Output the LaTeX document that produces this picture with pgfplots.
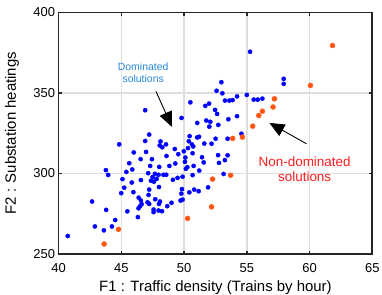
\documentclass[border=0pt]{standalone}
\usepackage{pgfplots}
\pgfplotsset{compat=1.18}
\usepackage{pgfplotstable}
\usepackage{fontspec}
\setmainfont{Liberation Sans}
\usetikzlibrary{arrows.meta}
\definecolor{dotblue}{RGB}{0,0,255}
\definecolor{dotorange}{RGB}{255,85,20}
\definecolor{txtblue}{RGB}{40,135,215}
\definecolor{txtred}{RGB}{255,30,30}
\definecolor{axisgray}{RGB}{38,38,38}
\definecolor{gridgray}{RGB}{222,222,222}

\pgfplotstableread{
x y
55.26 375.6
57.94 358.8
57.94 355.7
52.97 356.7
52.59 351.4
53.05 349.8
55.00 348.8
54.22 347.9
53.26 345.3
53.61 345.3
53.87 345.6
55.55 345.9
55.87 345.9
56.24 346.5
50.50 344.2
51.69 342.0
51.99 343.4
52.47 339.5
52.63 337.0
46.90 339.3
49.80 334.5
54.22 335.6
53.53 333.7
51.05 331.4
51.77 332.9
52.09 332.1
52.01 329.1
52.73 330.2
54.57 324.7
53.47 321.6
52.51 321.6
47.22 324.2
46.90 320.2
44.83 318.1
50.44 323.2
51.05 322.4
51.19 322.8
48.12 319.9
48.56 318.1
48.26 316.3
48.06 317.4
50.38 320.0
50.62 318.1
50.73 316.8
50.31 315.8
51.61 318.6
52.19 318.5
49.26 315.2
46.97 313.4
45.99 313.1
49.98 313.8
49.54 312.0
48.60 310.9
50.68 312.6
50.10 309.9
51.43 310.1
51.56 306.9
52.71 311.4
53.47 311.3
53.25 308.3
52.78 306.6
46.54 308.9
45.63 306.4
47.44 308.9
47.30 304.7
48.83 304.7
49.30 306.2
48.02 304.1
50.07 307.2
50.26 303.9
50.14 302.9
50.76 304.7
45.87 302.5
45.40 301.0
43.77 302.1
43.95 299.1
47.14 300.2
47.68 299.8
47.97 299.2
48.36 299.2
48.58 299.2
47.49 297.8
47.81 296.7
47.36 295.5
47.60 294.9
49.11 296.1
49.48 297.3
49.88 298.0
50.68 299.0
51.21 301.8
53.15 299.7
45.09 296.5
46.56 295.9
45.83 294.4
45.23 291.2
48.00 291.6
47.22 290.0
47.17 286.7
45.96 288.4
44.99 287.8
46.38 285.0
46.56 283.2
46.62 281.0
46.50 279.8
47.09 282.1
47.22 281.1
47.70 284.0
48.08 282.6
48.00 281.1
49.00 281.8
48.66 279.7
49.83 290.3
49.78 287.5
50.42 288.3
50.81 290.0
51.16 289.0
51.91 291.4
49.88 283.8
49.72 283.2
47.57 277.6
47.57 276.0
47.97 277.0
48.24 276.6
46.37 278.4
46.32 272.9
45.48 276.5
43.79 277.4
44.51 271.1
42.67 282.6
42.89 267.1
44.25 267.1
43.61 264.7
40.73 261.2
}\dominated

\pgfplotstableread{
x y
61.83 379.5
60.07 354.7
57.20 346.4
57.09 341.3
56.24 338.7
55.95 336.0
55.47 329.4
54.65 322.6
53.87 321.8
53.71 298.9
52.27 296.5
52.19 279.3
50.28 272.1
44.77 265.3
43.63 256.2
}\nondominated

\begin{document}
\begin{tikzpicture}
\path[use as bounding box] (-58.6bp,-41bp) rectangle (323.4bp,254bp);
\begin{axis}[
  at={(0,0)}, anchor=south west,
  scale only axis, width=313.7bp, height=241.5bp,
  xmin=40, xmax=65, ymin=250, ymax=400,
  xtick={40,45,50,55,60,65}, ytick={250,300,350,400},
  /pgf/number format/assume math mode=true,
  tick label style={font=\fontsize{13}{15}\selectfont, text=black},
  xticklabel style={yshift=-6bp},
  tick align=inside, major tick length=3.5bp,
  axis line style={line width=1.8bp, color=axisgray},
  every tick/.style={line width=1.5bp, color=axisgray},
  grid=major, major grid style={line width=1.4bp, color=gridgray},
  xlabel={F1 : Traffic density (Trains by hour)},
  ylabel={F2 : Substation heatings},
  label style={font=\fontsize{15}{17}\selectfont},
  xlabel style={at={(axis description cs:0.5,-0.157)}, anchor=base},
  ylabel style={at={(axis description cs:-0.1486,0.5)}, anchor=center, rotate=0},
  clip=false,
]
\addplot[only marks, mark=*, mark size=2.1bp, color=dotblue] table[x=x,y=y] {\dominated};
\addplot[only marks, mark=*, mark size=2.5bp, color=dotorange] table[x=x,y=y] {\nondominated};
\draw[line width=0.9bp, -{Triangle[length=15bp,width=13bp]}] (axis cs:47.76,351.0) -- (axis cs:49.03,329.0);
\draw[line width=0.9bp, -{Triangle[length=15bp,width=13bp]}] (axis cs:59.75,318.5) -- (axis cs:56.80,331.4);
\node[align=center, text=txtblue, font=\fontsize{10.5}{12.3}\selectfont] at (axis cs:46.74,362.7) {Dominated\\solutions};
\node[align=center, text=txtred, font=\fontsize{13.5}{15.7}\selectfont] at (axis cs:59.61,302.6) {Non-dominated\\solutions};
\end{axis}
\end{tikzpicture}
\end{document}
